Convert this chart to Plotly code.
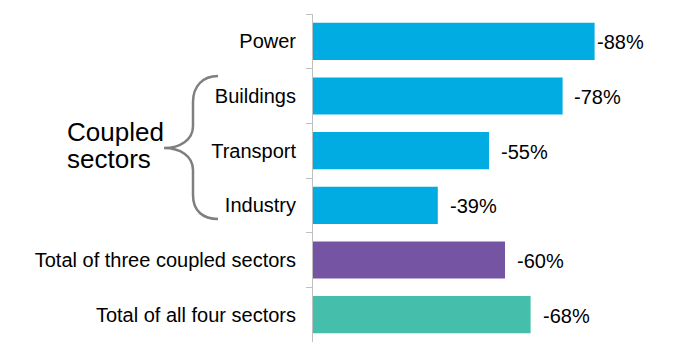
import plotly.graph_objects as go

categories = ["Power", "Buildings", "Transport", "Industry",
              "Total of three coupled sectors", "Total of all four sectors"]
reductions = [88, 78, 55, 39, 60, 68]
labels = [f"-{v}%" for v in reductions]

bar_colors = ["#00ACE2", "#00ACE2", "#00ACE2", "#00ACE2", "#7654A4", "#45BFAC"]
label_shift = [0, 9, 10, 10, 10, 10]

W, H = 674, 354
ML, MR, MT, MB = 313, 41, 14, 12
PW, PH = W - ML - MR, H - MT - MB

def px(x):
    return (x - ML) / PW

def py(y):
    return (H - MB - y) / PH

FONT = "Liberation Sans, Arial, sans-serif"

fig = go.Figure(go.Bar(
    y=categories, x=reductions, orientation="h",
    marker=dict(color=bar_colors, line=dict(width=0)),
    width=0.68, hoverinfo="skip",
))

for c, v, t, s in zip(categories, reductions, labels, label_shift):
    fig.add_annotation(x=v, y=c, text=t, showarrow=False, xanchor="left",
                       xshift=s, yshift=-1,
                       font=dict(size=20, color="#000000", family=FONT))

# brace path in pixel coordinates
pts = [
    ("M", [(218, 76)]),
    ("C", [(203, 76), (193, 86), (193, 102)]),
    ("L", [(193, 126)]),
    ("C", [(193, 140), (180, 148), (164, 148)]),
    ("C", [(180, 148), (193, 156), (193, 170)]),
    ("L", [(193, 195)]),
    ("C", [(193, 211), (203, 219), (218, 219)]),
]
path = " ".join(cmd + " " + " ".join(f"{px(x):.5f},{py(y):.5f}" for x, y in p) for cmd, p in pts)
fig.add_shape(type="path", path=path, xref="paper", yref="paper",
              line=dict(color="#7F7F7F", width=2.5))

fig.add_annotation(x=px(65), y=py(132), xref="paper", yref="paper", text="Coupled",
                   showarrow=False, xanchor="left", yanchor="middle",
                   font=dict(size=26, color="#000000", family=FONT))
fig.add_annotation(x=px(65), y=py(159), xref="paper", yref="paper", text="sectors",
                   showarrow=False, xanchor="left", yanchor="middle",
                   font=dict(size=26, color="#000000", family=FONT))

fig.update_layout(
    width=W, height=H,
    margin=dict(l=ML, r=MR, t=MT, b=MB),
    paper_bgcolor="white", plot_bgcolor="white",
    showlegend=False,
    xaxis=dict(range=[0, 100], visible=False, fixedrange=True),
    yaxis=dict(autorange="reversed", showline=True, linecolor="#BFBFBF", linewidth=1,
               ticks="outside", tickson="boundaries", ticklen=6, tickcolor="#BFBFBF",
               tickfont=dict(size=20, color="#000000", family=FONT),
               ticklabelstandoff=12, showgrid=False, zeroline=False, fixedrange=True),
)

fig.write_html("out.html")
